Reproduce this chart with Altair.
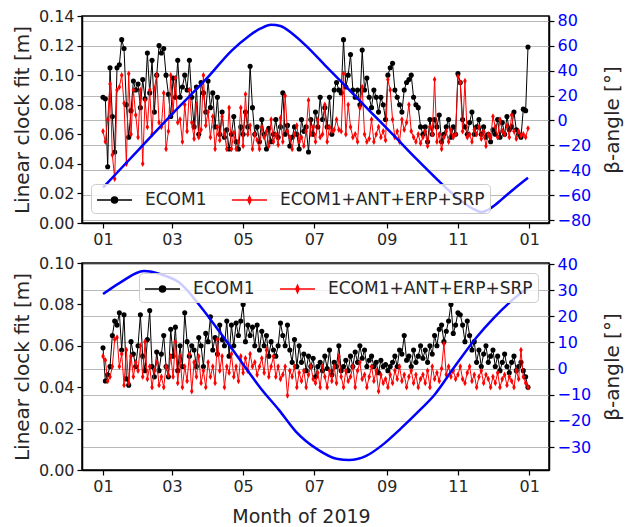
import altair as alt
import pandas as pd

FONT = "DejaVu Sans"
SERIES = ["ECOM1", "ECOM1+ANT+ERP+SRP"]

# every second day of 2019
dates = pd.date_range("2019-01-01", periods=183, freq="2D")

top_ecom1 = [
    0.085, 0.084, 0.038, 0.105, 0.072, 0.048, 0.105, 0.107, 0.124, 0.118, 0.080, 0.058, 0.076, 0.096, 0.090, 0.094,
    0.078, 0.097, 0.084, 0.115, 0.088, 0.110, 0.075, 0.100, 0.120, 0.115, 0.118, 0.100, 0.087, 0.072,
    0.098, 0.085, 0.110, 0.085, 0.092, 0.100, 0.090, 0.110, 0.085, 0.065, 0.092, 0.060, 0.095, 0.088, 0.075,
    0.096, 0.078, 0.088, 0.065, 0.085, 0.060, 0.075, 0.058, 0.063, 0.050, 0.060, 0.072, 0.055, 0.050, 0.065,
    0.060, 0.075, 0.065, 0.106, 0.078, 0.060, 0.065, 0.055, 0.070, 0.060, 0.050, 0.064, 0.055, 0.060, 0.070, 0.058,
    0.065, 0.088, 0.060, 0.066, 0.052, 0.058, 0.065, 0.060, 0.050, 0.070, 0.062, 0.065, 0.048, 0.070, 0.060,
    0.075, 0.065, 0.085, 0.070, 0.078, 0.065, 0.085, 0.060, 0.090, 0.095, 0.090, 0.088, 0.124, 0.092, 0.100,
    0.114, 0.090, 0.085, 0.090, 0.080, 0.117, 0.090, 0.098, 0.085, 0.078, 0.090, 0.085, 0.075, 0.085, 0.080, 0.070,
    0.100, 0.105, 0.108, 0.090, 0.085, 0.080, 0.075, 0.090, 0.095, 0.097, 0.100, 0.085, 0.080, 0.078, 0.065,
    0.060, 0.065, 0.055, 0.070, 0.060, 0.070, 0.065, 0.073, 0.055, 0.060, 0.065, 0.070, 0.058, 0.065, 0.060,
    0.101, 0.095, 0.070, 0.065, 0.060, 0.068, 0.075, 0.060, 0.065, 0.070, 0.060, 0.065, 0.058, 0.060, 0.055,
    0.063, 0.060, 0.070, 0.058, 0.068, 0.060, 0.072, 0.063, 0.065, 0.075, 0.063, 0.060, 0.058, 0.077, 0.076, 0.119,
]
top_full = [
    0.062, 0.055, 0.070, 0.094, 0.046, 0.030, 0.090, 0.092, 0.100, 0.081, 0.040, 0.101, 0.060, 0.090, 0.073, 0.058,
    0.090, 0.040, 0.083, 0.065, 0.090, 0.060, 0.091, 0.100, 0.068, 0.065, 0.088, 0.050, 0.062, 0.100,
    0.075, 0.098, 0.068, 0.070, 0.055, 0.080, 0.062, 0.090, 0.068, 0.057, 0.080, 0.058, 0.063, 0.100, 0.066,
    0.075, 0.058, 0.072, 0.050, 0.065, 0.056, 0.072, 0.060, 0.050, 0.078, 0.050, 0.061, 0.050, 0.055, 0.078,
    0.052, 0.087, 0.060, 0.066, 0.050, 0.060, 0.056, 0.050, 0.065, 0.058, 0.062, 0.052, 0.070, 0.055, 0.060, 0.053,
    0.071, 0.055, 0.086, 0.062, 0.058, 0.050, 0.060, 0.066, 0.055, 0.058, 0.052, 0.062, 0.083, 0.060, 0.065,
    0.055, 0.070, 0.058, 0.060, 0.080, 0.055, 0.065, 0.062, 0.063, 0.070, 0.063, 0.062, 0.101, 0.060, 0.080,
    0.065, 0.058, 0.060, 0.055, 0.078, 0.092, 0.060, 0.055, 0.057, 0.070, 0.055, 0.060, 0.065, 0.058, 0.062, 0.056,
    0.097, 0.090, 0.070, 0.058, 0.062, 0.055, 0.070, 0.063, 0.068, 0.080, 0.062, 0.058, 0.055, 0.060, 0.054,
    0.058, 0.062, 0.052, 0.065, 0.060, 0.097, 0.055, 0.060, 0.050, 0.058, 0.062, 0.055, 0.063, 0.058, 0.060,
    0.099, 0.095, 0.062, 0.096, 0.058, 0.060, 0.055, 0.063, 0.060, 0.065, 0.057, 0.062, 0.052, 0.060, 0.058,
    0.072, 0.065, 0.058, 0.070, 0.062, 0.060, 0.066, 0.058, 0.073, 0.062, 0.057, 0.062, 0.059, 0.060, 0.058, 0.064,
]
bot_ecom1 = [
    0.059, 0.043, 0.046, 0.050, 0.065, 0.072, 0.070, 0.076, 0.058, 0.075, 0.044, 0.041, 0.062, 0.056, 0.050, 0.060,
    0.075, 0.055, 0.048, 0.063, 0.077, 0.050, 0.045, 0.057, 0.048, 0.056, 0.065, 0.050, 0.045, 0.068,
    0.055, 0.069, 0.048, 0.060, 0.050, 0.076, 0.062, 0.055, 0.060, 0.058, 0.050, 0.064, 0.060, 0.050, 0.066,
    0.062, 0.074, 0.058, 0.064, 0.056, 0.070, 0.063, 0.060, 0.072, 0.055, 0.070, 0.060, 0.071, 0.065, 0.072,
    0.080, 0.062, 0.070, 0.065, 0.069, 0.060, 0.070, 0.058, 0.067, 0.060, 0.065, 0.055, 0.062, 0.058, 0.055, 0.060,
    0.071, 0.065, 0.060, 0.070, 0.058, 0.052, 0.063, 0.050, 0.060, 0.052, 0.056, 0.048, 0.055, 0.050, 0.054,
    0.045, 0.050, 0.052, 0.048, 0.055, 0.049, 0.058, 0.046, 0.052, 0.050, 0.060, 0.048, 0.050, 0.053, 0.048,
    0.055, 0.050, 0.057, 0.052, 0.060, 0.054, 0.058, 0.050, 0.053, 0.055, 0.050, 0.052, 0.047, 0.053, 0.050, 0.051,
    0.048, 0.050, 0.052, 0.055, 0.050, 0.058, 0.056, 0.065, 0.053, 0.055, 0.050, 0.058, 0.052, 0.055, 0.060,
    0.054, 0.058, 0.052, 0.060, 0.056, 0.065, 0.060, 0.068, 0.070, 0.062, 0.067, 0.072, 0.080, 0.066, 0.070,
    0.076, 0.075, 0.070, 0.062, 0.072, 0.065, 0.058, 0.062, 0.052, 0.058, 0.050, 0.056, 0.060, 0.052, 0.055,
    0.058, 0.050, 0.055, 0.048, 0.052, 0.056, 0.050, 0.047, 0.052, 0.055, 0.048, 0.050, 0.052, 0.048, 0.045, 0.040,
]
bot_full = [
    0.055, 0.053, 0.043, 0.045, 0.050, 0.063, 0.064, 0.050, 0.056, 0.041, 0.058, 0.042, 0.055, 0.045, 0.052, 0.048,
    0.060, 0.045, 0.062, 0.044, 0.050, 0.040, 0.048, 0.052, 0.041, 0.045, 0.040, 0.050, 0.046, 0.055,
    0.045, 0.062, 0.042, 0.055, 0.040, 0.050, 0.043, 0.056, 0.038, 0.052, 0.045, 0.055, 0.042, 0.048, 0.040,
    0.052, 0.045, 0.050, 0.042, 0.063, 0.048, 0.055, 0.040, 0.050, 0.047, 0.056, 0.045, 0.050, 0.043, 0.055,
    0.047, 0.054, 0.048, 0.056, 0.050, 0.052, 0.046, 0.050, 0.054, 0.047, 0.058, 0.045, 0.050, 0.055, 0.045, 0.050,
    0.044, 0.046, 0.050, 0.036, 0.048, 0.045, 0.050, 0.040, 0.047, 0.043, 0.048, 0.040, 0.046, 0.050, 0.044,
    0.042, 0.047, 0.040, 0.050, 0.045, 0.040, 0.048, 0.043, 0.050, 0.042, 0.055, 0.045, 0.040, 0.048, 0.043,
    0.045, 0.050, 0.040, 0.048, 0.052, 0.044, 0.046, 0.040, 0.045, 0.050, 0.043, 0.048, 0.038, 0.046, 0.042, 0.044,
    0.040, 0.046, 0.042, 0.048, 0.044, 0.050, 0.043, 0.046, 0.040, 0.045, 0.048, 0.042, 0.046, 0.040, 0.044,
    0.046, 0.042, 0.048, 0.040, 0.050, 0.044, 0.047, 0.043, 0.049, 0.061, 0.046, 0.050, 0.045, 0.048, 0.044,
    0.046, 0.050, 0.044, 0.042, 0.047, 0.050, 0.043, 0.046, 0.040, 0.045, 0.048, 0.042, 0.046, 0.044, 0.040,
    0.045, 0.042, 0.047, 0.040, 0.044, 0.046, 0.041, 0.045, 0.043, 0.040, 0.048, 0.044, 0.058, 0.045, 0.042, 0.040,
]

# beta angle (day of 2019, degrees)
top_beta_day = [0, 30, 60, 90, 110, 125, 135, 144, 152, 162, 174, 190, 210, 230, 250, 268, 282, 296, 308, 318, 324, 332, 342, 352, 364]
top_beta = [-54, -24, 6, 35, 56, 68, 74, 77, 76, 70, 60, 44.6, 25.4, 6.2, -13, -30.5, -43.5, -56, -65.5, -71.5, -73.6, -70.5, -63, -55, -46]
bot_beta_day = [0, 15, 35, 50, 65, 84, 100, 121, 135, 151, 165, 184, 200, 211, 225, 240, 255, 270, 284, 300, 320, 335, 350, 364]
bot_beta = [28.5, 33, 37.3, 36, 33, 23.5, 14, 1, -7.5, -16, -24, -31, -34.5, -35, -33.5, -29, -23, -16.5, -10, 0, 12, 19.5, 26, 31]

CIRC = "M-1,0L2.5,0M1.05,0A0.3,0.3,0,1,1,0.45,0A0.3,0.3,0,1,1,1.05,0Z"
DIAM = "M-1,0L2.5,0M0.75,-0.36L0.91,0L0.75,0.36L0.59,0Z"
THIN_DIAMOND = "M0,-1L0.55,0L0,1L-0.55,0Z"

x_domain = [alt.DateTime(year=2018, month=12, date=14), alt.DateTime(year=2020, month=1, date=18)]
x_ticks = [alt.DateTime(year=2019, month=m, date=1) for m in [1, 3, 5, 7, 9, 11]] + [alt.DateTime(year=2020, month=1, date=1)]

COLOR_EXPR = "datum.value === 'ECOM1' ? '#000000' : '#ff0000'"
SHAPE_EXPR = f"datum.value === 'ECOM1' ? '{CIRC}' : '{DIAM}'"


def make_legend(lx, ly):
    return alt.Legend(
        title=None, orient="none", legendX=lx, legendY=ly, direction="horizontal",
        symbolSize=400, symbolStrokeWidth=1.5, labelFontSize=17, labelFont=FONT,
        labelColor="#262626", labelOffset=27, labelLimit=400, columnPadding=22, padding=5,
        fillColor="rgba(255,255,255,0.8)", strokeColor="#cccccc", cornerRadius=4,
        symbolType={"expr": SHAPE_EXPR},
        symbolFillColor={"expr": COLOR_EXPR},
        symbolStrokeColor={"expr": COLOR_EXPR},
        zindex=0,
    )


def panel(black, red, bday, bval, ydom, yticks, rdom, rticks, lx, ly, show_title):
    df = pd.DataFrame({
        "date": list(dates) * 2,
        "value": black + red,
        "series": [SERIES[0]] * len(black) + [SERIES[1]] * len(red),
    })
    bdf = pd.DataFrame({
        "date": [pd.Timestamp("2019-01-01") + pd.Timedelta(days=d) for d in bday],
        "beta": bval,
    })
    if show_title:
        xaxis = alt.Axis(values=x_ticks, format="%m", grid=False, title="Month of 2019",
                         labelFontSize=16, titleFontSize=19, titleX=219, titleY=52,
                         titleAlign="center", titleBaseline="alphabetic")
    else:
        xaxis = alt.Axis(values=x_ticks, format="%m", grid=False, title=None, labelFontSize=16)
    x = alt.X("date:T", scale=alt.Scale(domain=x_domain), axis=xaxis)
    yl = alt.Y("value:Q", scale=alt.Scale(domain=ydom, nice=False, zero=False),
               axis=alt.Axis(values=yticks, format=".2f", grid=False, orient="left",
                             title="Linear clock fit [m]", labelFontSize=16,
                             titleFontSize=20, titlePadding=6))
    color = alt.Color("series:N", scale=alt.Scale(domain=SERIES, range=["#000000", "#ff0000"]),
                      legend=make_legend(lx, ly))
    base = alt.Chart(df)
    bl = base.transform_filter(alt.datum.series == SERIES[0]).mark_line(strokeWidth=1).encode(x=x, y=yl, color=color)
    bp = base.transform_filter(alt.datum.series == SERIES[0]).mark_point(
        filled=True, shape="circle", size=26, color="#000000", opacity=1).encode(x=x, y=yl)
    rl = base.transform_filter(alt.datum.series == SERIES[1]).mark_line(strokeWidth=1).encode(x=x, y=yl, color=color)
    rp = base.transform_filter(alt.datum.series == SERIES[1]).mark_point(
        filled=True, shape=THIN_DIAMOND, size=42, color="#ff0000", opacity=1).encode(x=x, y=yl)
    left = alt.layer(bl, bp, rl, rp)
    beta = alt.Chart(bdf).mark_line(color="#0000ff", strokeWidth=2.5, interpolate="monotone").encode(
        x=x,
        y=alt.Y("beta:Q", scale=alt.Scale(domain=rdom, nice=False, zero=False),
                axis=alt.Axis(orient="right", values=rticks, grid=True, gridColor="#b8b8b8",
                              gridWidth=1, labelColor="#0000ff", labelFontSize=16,
                              title="β-angle [°]", titleFontSize=20, titleAngle=270,
                              titlePadding=32)),
    )
    return alt.layer(left, beta).resolve_scale(y="independent").properties(width=467, height=207)


top = panel(top_ecom1, top_full, top_beta_day, top_beta, [0, 0.14],
            [0, 0.02, 0.04, 0.06, 0.08, 0.10, 0.12, 0.14], [-82.4, 84],
            [-80, -60, -40, -20, 0, 20, 40, 60, 80], 9, 168, False)
bottom = panel(bot_ecom1, bot_full, bot_beta_day, bot_beta, [0, 0.10],
               [0, 0.02, 0.04, 0.06, 0.08, 0.10], [-38.8, 40.4],
               [-30, -20, -10, 0, 10, 20, 30, 40], 57, 10, True)

chart = alt.vconcat(top, bottom, spacing=6).resolve_scale(color="independent").resolve_legend(
    color="independent"
).properties(
    padding={"left": 11, "top": 7, "right": 2, "bottom": 4}, background="white"
).configure_view(stroke="#000000", strokeWidth=1.5).configure_axis(
    labelFont=FONT, titleFont=FONT, titleFontWeight="normal", labelColor="#262626",
    titleColor="#262626", domainColor="#000000", domainWidth=1.5, tickColor="#000000",
    tickSize=5, tickWidth=1.2, labelPadding=3
)

chart.save("out.html", embed_options={"renderer": "svg", "actions": False})
